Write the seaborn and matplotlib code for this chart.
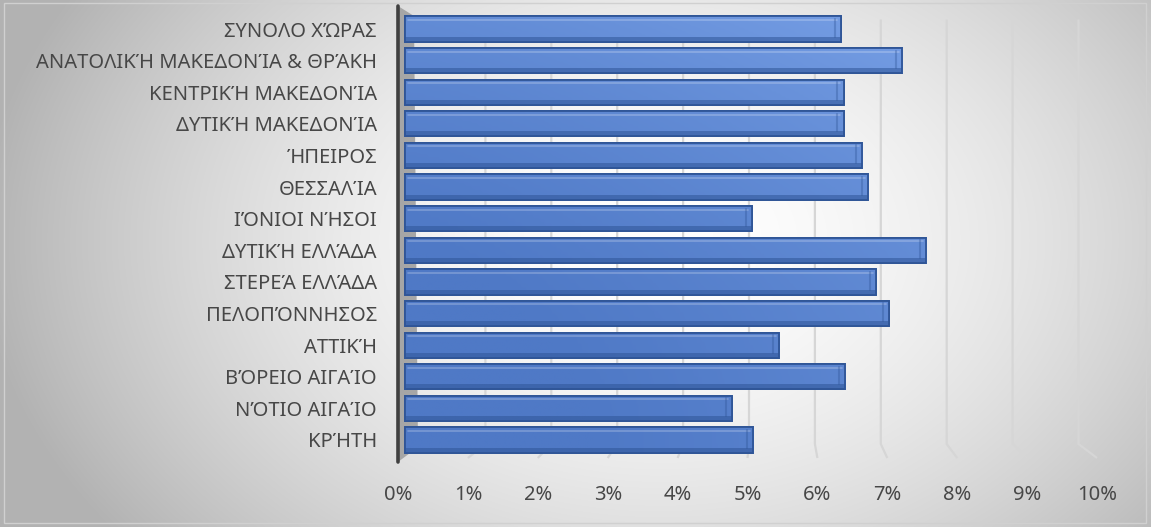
import numpy as np
import pandas as pd
import matplotlib
matplotlib.use("Agg")
import matplotlib.pyplot as plt
import seaborn as sns
from matplotlib.patches import Polygon, Rectangle
from matplotlib.colors import LinearSegmentedColormap

# Share per region (%)
regions = [
    "ΣΥΝΟΛΟ ΧΏΡΑΣ",
    "ΑΝΑΤΟΛΙΚΉ ΜΑΚΕΔΟΝΊΑ & ΘΡΆΚΗ",
    "ΚΕΝΤΡΙΚΉ ΜΑΚΕΔΟΝΊΑ",
    "ΔΥΤΙΚΉ ΜΑΚΕΔΟΝΊΑ",
    "ΉΠΕΙΡΟΣ",
    "ΘΕΣΣΑΛΊΑ",
    "ΙΌΝΙΟΙ ΝΉΣΟΙ",
    "ΔΥΤΙΚΉ ΕΛΛΆΔΑ",
    "ΣΤΕΡΕΆ ΕΛΛΆΔΑ",
    "ΠΕΛΟΠΌΝΝΗΣΟΣ",
    "ΑΤΤΙΚΉ",
    "ΒΌΡΕΙΟ ΑΙΓΑΊΟ",
    "ΝΌΤΙΟ ΑΙΓΑΊΟ",
    "ΚΡΉΤΗ",
]
shares = [6.35, 7.24, 6.39, 6.39, 6.66, 6.75, 5.05, 7.59, 6.86, 7.05, 5.45, 6.41, 4.76, 5.07]
tick_values = list(range(0, 11))
tick_labels = [f"{v}%" for v in tick_values]

W, H = 1151, 527
sns.set_theme(style="white")
plt.rcParams["font.family"] = ["Noto Sans", "DejaVu Sans"]
TEXT = "#474747"

fig = plt.figure(figsize=(W / 100, H / 100), dpi=100)

# ---- soft radial background -------------------------------------------
bg = fig.add_axes([0, 0, 1, 1], zorder=-10)
yy, xx = np.mgrid[0:H, 0:W]
d = np.sqrt(((xx - 660) / 640) ** 2 + ((yy - 240) / 460) ** 2)
shade = 1.0 - 0.27 * np.clip(d, 0, 1.4) ** 1.7
shade = np.clip(shade, 0.7, 1.0)
bg.imshow(np.dstack([shade] * 3), extent=[0, W, H, 0], aspect="auto")
bg.add_patch(Rectangle((4, 3), W - 9, H - 7, fill=False, ec="#d0d0d0", lw=1))
bg.set_xlim(0, W)
bg.set_ylim(H, 0)
bg.axis("off")

# ---- bar axes (front face of the bars) ---------------------------------
X0, SX = 405.0, 68.65          # pixel of 0 % and pixels per 1 % on bar faces
YT, YB = 13.2, 455.8           # pixel top / bottom of the category band
XL, XR = -0.2, 10.2            # view range, a little wider than 0-10 %
LABEL_RIGHT = 377.0            # pixel where the category labels end
ax = fig.add_axes([(X0 + XL * SX) / W, 1 - YB / H, (XR - XL) * SX / W, (YB - YT) / H])
ax.patch.set_alpha(0)

def px_x(p):
    return (p - X0) / SX

def px_y(p):
    return -0.5 + (p - YT) / ((YB - YT) / 14)

df = pd.DataFrame({"region": regions, "share": shares})
sns.barplot(data=df, y="region", x="share", orient="h", color="#5b87d2",
            edgecolor="#2f5597", linewidth=1.3, width=0.8, ax=ax, zorder=3)
bars = [p for p in ax.patches if isinstance(p, Rectangle)]

# shading of each bar: lighter towards the upper right, with a bevel
cmap = LinearSegmentedColormap.from_list("face", ["#4f79c6", "#86aef2"])
gy, gx = np.mgrid[0:60, 0:300]
grad = np.clip(0.55 * (gx / 299) ** 1.3 + 0.45 * (1 - gy / 59) ** 2 - 0.1, 0, 1)
for p in bars:
    x, y, w, h = p.get_x(), p.get_y(), p.get_width(), p.get_height()
    im = ax.imshow(grad, cmap=cmap, vmin=0, vmax=1, extent=[0, 10, 13.5, -0.5],
                   aspect="auto", zorder=3.1, interpolation="bilinear")
    im.set_clip_path(p)
    # dark underside and light top edge
    ax.fill_between([x, x + w], y + h * 0.80, y + h, color="#2f5597",
                    alpha=0.55, lw=0, zorder=3.2)
    ax.plot([x + 0.05, x + w - 0.05], [y + h * 0.14] * 2, color="white",
            alpha=0.25, lw=1.2, zorder=3.2)
    ax.plot([x + w - 0.09] * 2, [y + h * 0.1, y + h * 0.8], color="#2f5597",
            alpha=0.35, lw=1.5, zorder=3.2)
    # outline above the fill
    ax.add_patch(Rectangle((x, y), w, h, fill=False, ec="#2f5597",
                           lw=1.3, zorder=3.3))

# perspective gridlines: back wall position, then down the floor to the front
for v in tick_values[1:]:
    xb = px_x(419.5 + 65.9 * v)
    xf = px_x(398 + 69.9 * v)
    ax.plot([xb, xb, xf], [px_y(19.5), px_y(444), px_y(458)],
            color="#d6d6d6", lw=1.6, zorder=1, clip_on=False,
            solid_capstyle="butt")

# side wall and axis line
wall = Polygon([(px_x(398), px_y(6)), (px_x(414), px_y(16)),
                (px_x(418), px_y(447)), (px_x(398), px_y(462))],
               closed=True, fc="#a6a6a6", ec="none", zorder=2, clip_on=False)
ax.add_patch(wall)
ax.plot([px_x(398), px_x(398)], [px_y(6), px_y(462)], color="#404040",
        lw=2.6, zorder=2.5, clip_on=False, solid_capstyle="round")

# tick labels sit on the front edge of the floor
ax.set_xticks([px_x(398 + 69.9 * v) for v in tick_values])
ax.set_xticklabels(tick_labels)
ax.set_xlim(XL, XR)
ax.set_ylim(13.5, -0.5)
ypad = ((X0 + XL * SX) - LABEL_RIGHT) * 72 / 100
ax.tick_params(axis="x", length=0, pad=21, labelsize=14.5, colors=TEXT)
ax.tick_params(axis="y", length=0, pad=ypad, labelsize=14.5, colors=TEXT)
ax.set_xlabel("")
ax.set_ylabel("")
for s in ax.spines.values():
    s.set_visible(False)
ax.grid(False)

fig.savefig("out.png", dpi=100)
